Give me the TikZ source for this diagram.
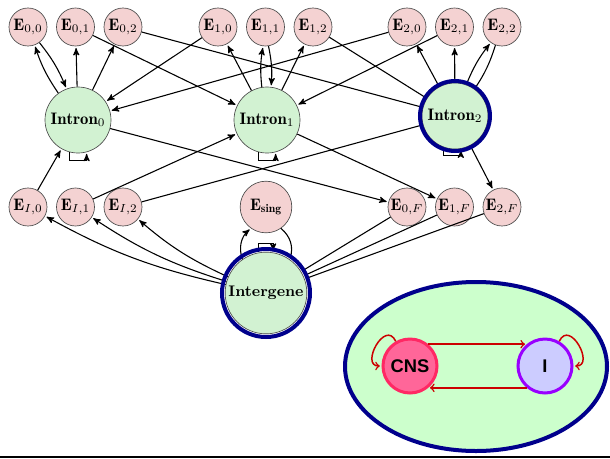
\documentclass[tikz,border=0pt]{standalone}
\usepackage{amsmath}
\usepackage{amssymb}
\usepackage{fontspec}
\usepackage{tikz}
\usetikzlibrary{arrows,automata}
\newfontfamily\arialfont{Liberation Sans}
\definecolor{exonpink}{RGB}{244,210,210}
\definecolor{introngreen}{RGB}{210,242,210}
\definecolor{ringblue}{RGB}{0,0,140}
\definecolor{ovalgreen}{RGB}{204,255,204}
\definecolor{cnspink}{RGB}{255,102,153}
\definecolor{cnsedge}{RGB}{255,40,100}
\definecolor{ililac}{RGB}{204,204,255}
\definecolor{iedge}{RGB}{153,0,255}
\definecolor{arrowred}{RGB}{204,0,0}

\begin{document}
\begin{tikzpicture}[>=stealth',shorten >=1pt,auto,node distance=28.5pt,x=0.6pt,y=-0.6pt,
    exon/.style={state,draw=black!70,fill=exonpink,minimum size=22.8pt,inner sep=0pt},
    intron/.style={state,draw=black!70,fill=introngreen,minimum size=39.6pt,inner sep=0pt},
    ring/.style={draw=ringblue,line width=2.4pt,shorten >=0pt},
    small state/.style={state,line width=1.8pt,minimum size=32.4pt,inner sep=0pt,
        font=\arialfont\bfseries\fontsize{11}{13}\selectfont},
    red edge/.style={->,>=to,color=arrowred,line width=0.9pt}]
    \useasboundingbox (0,0) rectangle (610,458);

    \node[exon] (e00) at (28,27) {$\mathbf{E}_{0,0}$};
    \node[exon] (e01) [right of=e00] {$\mathbf{E}_{0,1}$};
    \node[exon] (e02) [right of=e01] {$\mathbf{E}_{0,2}$};
    \node[exon] (e10) at (218,27) {$\mathbf{E}_{1,0}$};
    \node[exon] (e11) [right of=e10] {$\mathbf{E}_{1,1}$};
    \node[exon] (e12) [right of=e11] {$\mathbf{E}_{1,2}$};
    \node[exon] (e20) at (407,27) {$\mathbf{E}_{2,0}$};
    \node[exon] (e21) [right of=e20] {$\mathbf{E}_{2,1}$};
    \node[exon] (e22) [right of=e21] {$\mathbf{E}_{2,2}$};

    \node[intron] (i0) at (78,120) {$\mathbf{Intron}_0$};
    \node[intron] (i1) at (267,120) {$\mathbf{Intron}_1$};
    \node[intron] (i2) at (455,116) {$\mathbf{Intron}_2$};

    \node[exon] (ei0) at (28,207) {$\mathbf{E}_{I,0}$};
    \node[exon] (ei1) [right of=ei0] {$\mathbf{E}_{I,1}$};
    \node[exon] (ei2) [right of=ei1] {$\mathbf{E}_{I,2}$};
    \node[exon,minimum size=31pt] (es) at (266,207) {$\mathbf{E}_{\mathbf{sing}}$};
    \node[exon] (e0f) at (407,207) {$\mathbf{E}_{0,F}$};
    \node[exon] (e1f) [right of=e0f] {$\mathbf{E}_{1,F}$};
    \node[exon] (e2f) [right of=e1f] {$\mathbf{E}_{2,F}$};

    \node[intron,minimum size=49pt,font=\fontsize{9.2}{11}\selectfont] (ig) at (266,293) {\textbf{Intergene}};

    \path[->,line width=0.65pt]
    (e00) edge [bend left=8] (i0)
    (i0) edge [bend left=8] (e00)
    (i0) edge (e01)
    (i0) edge (e02)
    (e01) edge (i1)
    (e02) edge [-] (i2)
    (i1) edge (e10)
    (e11) edge [bend left=8] (i1)
    (i1) edge [bend left=8] (e11)
    (i1) edge (e12)
    (e10) edge (i0)
    (e12) edge [-] (i2)
    (i2) edge (e20)
    (i2) edge (e21)
    (e22) edge [-,bend left=8] (i2)
    (i2) edge [bend left=8] (e22)
    (e20) edge (i0)
    (e21) edge (i1)
    (ei0) edge (i0)
    (ei1) edge (i1)
    (ei2) edge [-] (i2)
    (i0) edge (e0f)
    (i1) edge (e1f)
    (i2) edge (e2f)
    (ig) edge [bend left=8] (ei0)
    (ig) edge [bend left=8] (ei1)
    (ig) edge [bend left=8] (ei2)
    (e0f) edge [-] (ig)
    (e1f) edge [-] (ig)
    (e2f) edge [-] (ig)
    (ig) edge [bend left=35] (es)
    (es) edge [-,bend left=35] (ig)
    ;
    \draw[->,line width=0.65pt] (i0.-105) -- ++(0,8) -| (i0.-75);
    \draw[->,line width=0.65pt] (i1.-105) -- ++(0,8) -| (i1.-75);
    \draw[->,line width=0.65pt] (i2.-110) -- ++(0,8) -| (i2.-80);
    \draw[->,line width=0.65pt] (ig.100) -- ++(0,-9) -| (ig.80);

    \draw[ring] (i2.center) circle[radius=21pt];
    \draw[ring] (ig.center) circle[radius=26.4pt];

    \filldraw[ring,fill=ovalgreen] (476,366.5) ellipse[x radius=78.6pt,y radius=50.7pt];
    \node[small state,draw=cnsedge,fill=cnspink] (cns) at (410,366) {CNS};
    \node[small state,draw=iedge,fill=ililac] (ii) at (545,366) {I};

    \path[red edge]
    (cns.50) edge (ii.130)
    (ii.-130) edge (cns.-50)
    ;
    \draw[red edge] (cns.120) .. controls +(115:15pt) and +(180:13pt) .. (cns.180);
    \draw[red edge] (ii.60) .. controls +(65:15pt) and +(0:13pt) .. (ii.0);

    \draw[line width=1.2pt,shorten >=0pt] (0,456.5) -- (610,456.5);
\end{tikzpicture}
\end{document}
